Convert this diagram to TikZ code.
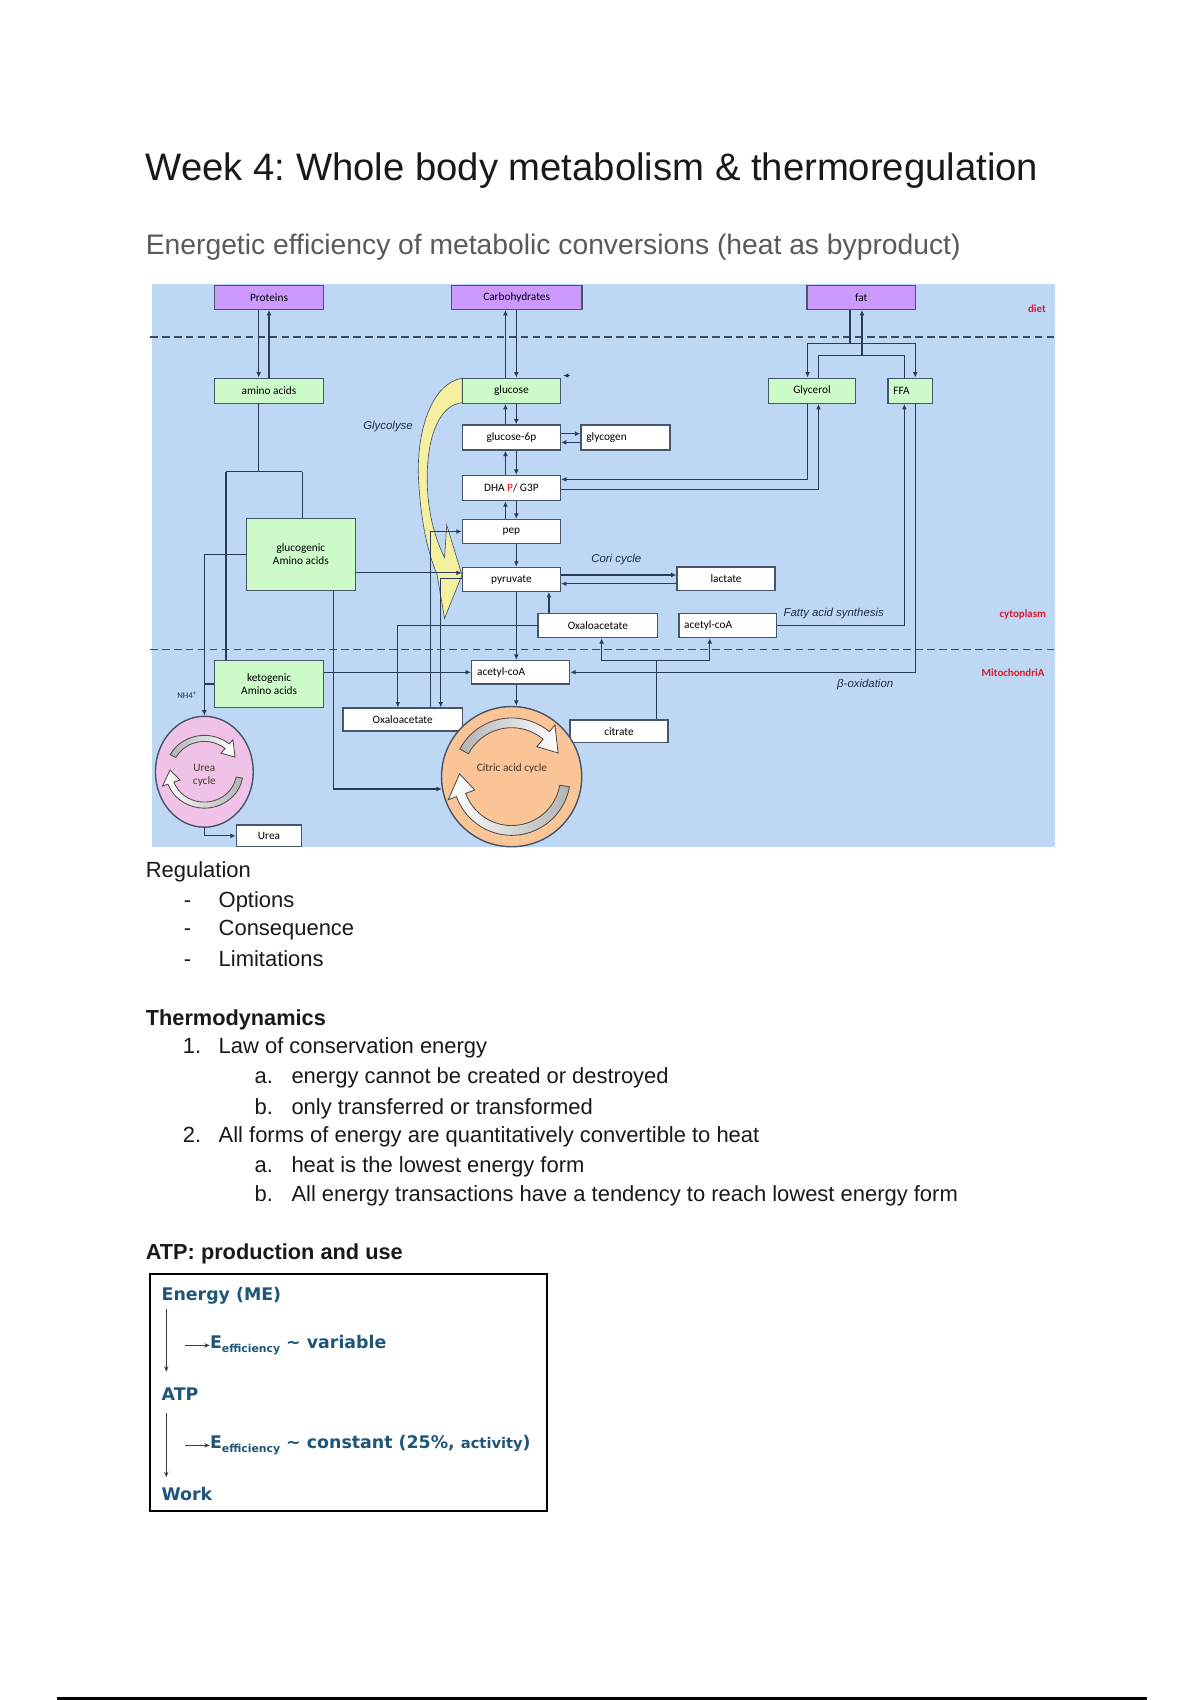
\documentclass[tikz,border=0pt]{standalone}
\usepackage{fontspec}
\setmainfont{Liberation Sans}
\newfontfamily\carl{Carlito}
\newfontfamily\dvs{DejaVu Sans}
\usetikzlibrary{arrows.meta,shapes.geometric,calc,backgrounds}
\frenchspacing
\definecolor{bgblue}{RGB}{189,215,245}
\definecolor{purp}{RGB}{204,153,255}
\definecolor{grn}{RGB}{204,250,200}
\definecolor{boxline}{RGB}{70,85,105}
\definecolor{conn}{RGB}{40,60,90}
\definecolor{dashc}{RGB}{60,75,95}
\definecolor{labred}{RGB}{215,30,45}
\definecolor{ital}{RGB}{30,45,75}
\definecolor{pinkc}{RGB}{241,194,231}
\definecolor{orangec}{RGB}{250,196,150}
\definecolor{yel}{RGB}{245,240,160}
\definecolor{tcol}{RGB}{25,25,25}
\definecolor{subcol}{RGB}{90,90,90}
\definecolor{atpcol}{RGB}{30,85,120}
\definecolor{cycline}{RGB}{80,80,80}
\definecolor{cyctext}{RGB}{70,55,50}
\newcommand\bxfont{\carl\fontsize{10.4}{12}\selectfont}
\newcommand\mycycarrows{%
 \path[draw=cycline, line width=0.8pt, left color=gray!60, right color=white]
   (152:54) arc[start angle=152, end angle=50, radius=54] -- (50:62) -- (27:48) -- (50:36) -- (50:45) arc[start angle=50, end angle=152, radius=45] -- cycle;
 \path[draw=cycline, line width=0.8pt, left color=white, right color=gray!60]
   (-10:54) arc[start angle=-10, end angle=-160, radius=54] -- (-160:62) -- (-183:48) -- (-160:36) -- (-160:45) arc[start angle=-160, end angle=-10, radius=45] -- cycle;
}
\begin{document}
\begin{tikzpicture}[x=1pt,y=1pt,
  box/.style={draw=boxline, line width=1.3pt, inner sep=0pt, minimum height=22pt, font=\bxfont, text=black},
  purplebox/.style={box, fill=purp},
  greenbox/.style={box, fill=grn},
  whitebox/.style={box, fill=white},
  arr/.style={draw=conn, line width=1.1pt, -{Latex[length=5pt,width=4.5pt]}},
  ln/.style={draw=conn, line width=1.1pt},
  redlab/.style={inner sep=0pt, text=labred, font=\carl\bfseries\fontsize{10}{12}\selectfont},
  itl/.style={inner sep=0pt, text=ital, font=\itshape\fontsize{10.5}{12}\selectfont},
  txt/.style={anchor=base west, inner sep=0pt, text=tcol, font=\fontsize{20.2}{24}\selectfont},
  txtb/.style={txt, font=\bfseries\fontsize{20}{24}\selectfont},
  atpt/.style={anchor=base west, inner sep=0pt, text=atpcol, font=\dvs\bfseries\fontsize{16}{19}\selectfont},
  atparr/.style={draw={rgb,255:red,60;green,60;blue,60}, line width=1.3pt, -{Stealth[length=5pt,width=4pt]}}
]
\useasboundingbox (0,0) rectangle (1104,-1564);

% ---------- titles ----------
\node[anchor=base west, inner sep=0pt, text=tcol, font=\fontsize{35.2}{40}\selectfont] (title) at (134,-166) {Week 4: Whole body metabolism \& thermoregulation};
\node[anchor=base west, inner sep=0pt, text=subcol, font=\fontsize{26}{30}\selectfont] (subtitle) at (134,-234) {Energetic efficiency of metabolic conversions (heat as byproduct)};

% ---------- diagram nodes ----------
\node[purplebox, minimum width=100pt] (prot) at (247.5,-273.5) {Proteins};
\node[purplebox, minimum width=120pt] (carb) at (475.3,-273.5) {Carbohydrates};
\node[purplebox, minimum width=100pt] (fat) at (792.4,-273.5) {fat};
\node[greenbox, minimum width=100pt, minimum height=23pt] (amino) at (247.5,-359.5) {amino acids};
\node[greenbox, minimum width=90pt, minimum height=23pt] (gluc) at (470.5,-359.5) {glucose};
\node[greenbox, minimum width=80pt, minimum height=23pt] (glyc) at (747,-359.5) {Glycerol};
\node[greenbox, minimum height=23pt, text width=31pt, inner xsep=5pt, align=left] (ffa) at (837.5,-359.5) {FFA};
\node[whitebox, minimum width=90pt, minimum height=23pt] (g6p) at (470.5,-402.5) {glucose-6p};
\node[whitebox, minimum height=23pt, text width=72pt, inner xsep=5pt, align=left] (glycogen) at (575.5,-402.5) {glycogen};
\node[whitebox, minimum width=90pt, minimum height=23pt] (dha) at (470.5,-449) {DHA \textcolor{red}{P}/ G3P};
\node[whitebox, minimum width=90pt] (pep) at (470.5,-489) {pep};
\node[whitebox, minimum width=90pt] (pyr) at (470.5,-533) {pyruvate};
\node[whitebox, minimum width=90pt] (lact) at (668,-532.5) {lactate};
\node[whitebox, minimum width=110pt] (oaac) at (550,-575.5) {Oxaloacetate};
\node[whitebox, text width=80pt, inner xsep=5pt, align=left] (acoac) at (669.5,-575.5) {acetyl-coA};
\node[whitebox, text width=80pt, inner xsep=5pt, align=left, minimum height=21.5pt] (acoam) at (479,-618.5) {acetyl-coA};
\node[whitebox, minimum width=110pt, minimum height=21pt] (oaam) at (370.5,-662) {Oxaloacetate};
\node[whitebox, minimum width=90pt, minimum height=21pt] (citr) at (569.5,-672.7) {citrate};
\node[whitebox, minimum width=60pt, minimum height=20pt] (urea) at (247.5,-769) {Urea};
\node[greenbox, minimum width=100pt, minimum height=66pt, align=center] (glucog) at (276.8,-510) {glucogenic\\Amino acids};
\node[greenbox, minimum width=100pt, minimum height=43pt, align=center] (ketog) at (247.6,-629.3) {ketogenic\\Amino acids};
\node[draw=boxline, line width=1.3pt, fill=pinkc, ellipse, minimum width=90pt, minimum height=102pt, inner sep=0pt] (ureacyc) at (188,-710) {};
\node[draw=boxline, line width=1.3pt, fill=orangec, circle, minimum size=129pt, inner sep=0pt] (tca) at (470.7,-714.5) {};

% ---------- background layer ----------
\begin{scope}[on background layer]
  \fill[white] (0,0) rectangle (1104,-1564);
  \fill[bgblue] (140,-261) rectangle (971,-779);
  \draw[dashc, line width=1.2pt, dash pattern=on 7pt off 4pt] (138,-310) -- (971,-310);
  \draw[dashc, line width=1.2pt, dash pattern=on 7pt off 4pt] (138,-597.5) -- (971,-597.5);
  % Glycolyse block arrow
  \path[fill=yel, draw=boxline, line width=0.6pt]
    (425.3,-348) .. controls (398,-352) and (383,-395) .. (385,-440)
    .. controls (387,-480) and (394,-510) .. (402,-528)
    -- (409,-569) -- (425,-529) -- (411,-483) -- (409,-513)
    .. controls (400,-495) and (393,-470) .. (393,-440)
    .. controls (393,-400) and (405,-372) .. (425.3,-370.5) -- cycle;
\end{scope}

% ---------- cycle arrows ----------
\begin{scope}[shift={(470.7,-714.5)}]
  \mycycarrows
\end{scope}
\begin{scope}[shift={(188,-710)}, xscale=0.66, yscale=0.62]
  \mycycarrows
\end{scope}
\node[font=\bxfont, text=cyctext, inner sep=0pt] (tcatxt) at (471,-707) {Citric acid cycle};
\node[font=\bxfont, text=cyctext, inner sep=0pt, align=center] (ureatxt) at (188,-713) {Urea\\cycle};

% ---------- labels ----------
\node[redlab] (ldiet) at (954,-284) {diet};
\node[redlab] (lcyto) at (941,-565) {cytoplasm};
\node[redlab] (lmito) at (932,-619) {MitochondriA};
\node[itl] (lglyco) at (357,-392) {Glycolyse};
\node[itl] (lcori) at (567,-515) {Cori cycle};
\node[itl] (lfas) at (767,-564) {Fatty acid synthesis};
\node[itl] (lbox) at (796,-630) {β-oxidation};
\node[inner sep=0pt, text=ital, font=\carl\fontsize{8}{9}\selectfont] (lnh) at (172,-640) {NH4\textsuperscript{+}};

% ---------- helper coordinates ----------
\coordinate (xu) at (465,0); \coordinate (xd) at (475,0);
\coordinate (pd) at (238,0); \coordinate (pu) at (247.5,0);
\coordinate (ya) at (0,-399); \coordinate (yb) at (0,-407);
\coordinate (gA) at (743,0); \coordinate (gB) at (753,0);
\coordinate (y441) at (0,-441);
\coordinate (fA) at (782,-316); \coordinate (fC) at (793,-327);
\coordinate (fB) at (842,0); \coordinate (fD) at (832,0);
\coordinate (xO) at (505,0); \coordinate (xOa) at (366,0);
\coordinate (xOb) at (405.5,0); \coordinate (xOc) at (396,0);
\coordinate (yG) at (0,-527); \coordinate (xG) at (307,0);
\coordinate (jA) at (238,-434); \coordinate (jB) at (208,-434); \coordinate (jC) at (278,-434);
\coordinate (jD) at (604,-608); \coordinate (xC1) at (553.5,0); \coordinate (xC2) at (653,0);
\coordinate (pl1) at ([yshift=4pt]pyr.east); \coordinate (pl2) at ([yshift=-4pt]pyr.east);
\coordinate (stray1) at (524,-345.5); \coordinate (stray2) at (518,-345.5);

% ---------- connectors ----------
\draw[arr] (prot.south -| pd) -- (amino.north -| pd);
\draw[arr] (amino.north -| pu) -- (prot.south -| pu);
\draw[arr] (gluc.north -| xu) -- (carb.south -| xu);
\draw[arr] (carb.south -| xd) -- (gluc.north -| xd);
\draw[arr] (g6p.north -| xu) -- (gluc.south -| xu);
\draw[arr] (gluc.south -| xd) -- (g6p.north -| xd);
\draw[arr] (dha.north -| xu) -- (g6p.south -| xu);
\draw[arr] (g6p.south -| xd) -- (dha.north -| xd);
\draw[arr] (pep.north -| xu) -- (dha.south -| xu);
\draw[arr] (dha.south -| xd) -- (pep.north -| xd);
\draw[arr] (pep.south -| xd) -- (pyr.north -| xd);
\draw[arr] (pyr.south -| xd) -- (acoam.north -| xd);
\draw[arr] (acoam.south -| xd) -- (tca.north -| xd);
\draw[arr] (g6p.east |- ya) -- (glycogen.west |- ya);
\draw[arr] (glycogen.west |- yb) -- (g6p.east |- yb);
\draw[arr] (glyc.south -| gA) |- (dha.east |- y441);
\draw[arr] ([yshift=-1pt]dha.east) -| (glyc.south -| gB);
\draw[ln] (fat.south -| fA) -- (fA);
\draw[arr] (fA) -| (glyc.north -| gA);
\draw[arr] (fA) -| (ffa.north -| fB);
\draw[arr] (fC) -- (fat.south -| fC);
\draw[ln] (glyc.north -| gB) |- (fC);
\draw[ln] (ffa.north -| fD) |- (fC);
\draw[arr] (acoac.east) -| (ffa.south -| fD);
\draw[arr] (ffa.south -| fB) |- (acoam.east);
\draw[arr] (pl1) -- (pl1 -| lact.west);
\draw[arr] (pl2 -| lact.west) -- (pl2);
\draw[arr] (oaac.north -| xO) -- (pyr.south -| xO);
\draw[arr] (oaac.west) -| (oaam.north -| xOa);
\draw[arr] ([yshift=1pt]pyr.west) -| (oaam.north -| xOb);
\draw[arr] (oaam.north -| xOc) |- (pep.west);
\draw[arr] (glucog.east |- yG) -- (pyr.west |- yG);
\draw[arr] (glucog.south -| xG) |- (tca.190);
\draw[arr] (ketog.east |- acoam.west) -- (acoam.west);
\draw[ln] (amino.south -| jA) -- (jA);
\draw[ln] (jB) -- (jC);
\draw[ln] (jC) -- (glucog.north -| jC);
\draw[ln] (jB) -- (ketog.north -| jB);
\draw[arr] (glucog.west) -| (ureacyc.north);
\draw[ln] (ketog.west) -- (ketog.west -| ureacyc.north);
\draw[arr] (ureacyc.south) |- (urea.west);
\draw[ln] (citr.north -| jD) -- (jD);
\draw[arr] (jD) -| (oaac.south -| xC1);
\draw[arr] (jD) -| (acoac.south -| xC2);
\draw[arr] (stray1) -- (stray2);

% ---------- text section ----------
\node[txt] (reg) at (134,-807) {Regulation};
\node[txt] (d1) at (169,-835) {-};
\node[txt] (opt) at (201,-835) {Options};
\node[txt] (d2) at (169,-861) {-};
\node[txt] (cons) at (201,-861) {Consequence};
\node[txt] (d3) at (169,-889) {-};
\node[txt] (lim) at (201,-889) {Limitations};
\node[txtb] (thermo) at (134,-943) {Thermodynamics};
\node[txt] (n1) at (168,-969) {1.};
\node[txt] (t1) at (201,-969) {Law of conservation energy};
\node[txt] (n1a) at (234,-997) {a.};
\node[txt] (t1a) at (268,-997) {energy cannot be created or destroyed};
\node[txt] (n1b) at (234,-1025) {b.};
\node[txt] (t1b) at (268,-1025) {only transferred or transformed};
\node[txt] (n2) at (168,-1051) {2.};
\node[txt] (t2) at (201,-1051) {All forms of energy are quantitatively convertible to heat};
\node[txt] (n2a) at (234,-1079) {a.};
\node[txt] (t2a) at (268,-1079) {heat is the lowest energy form};
\node[txt] (n2b) at (234,-1105) {b.};
\node[txt] (t2b) at (268,-1105) {All energy transactions have a tendency to reach lowest energy form};
\node[txtb] (atph) at (134,-1159) {ATP: production and use};

% ---------- ATP box ----------
\node[draw=black, line width=1.6pt, minimum width=365pt, minimum height=218pt, inner sep=0pt] (atpbox) at (320.5,-1281) {};
\node[atpt] (atpE) at (148.5,-1196) {Energy (ME)};
\node[atpt] (atpA) at (148.5,-1288) {ATP};
\node[atpt] (atpW) at (148.5,-1380) {Work};
\node[atpt] (eff1) at (193,-1241) {E\raisebox{-3.5pt}{\fontsize{10}{10}\selectfont efficiency} \textasciitilde{} variable};
\node[atpt] (eff2) at (193,-1333) {E\raisebox{-3.5pt}{\fontsize{10}{10}\selectfont efficiency} \textasciitilde{} constant (25\%, {\fontsize{13.5}{14}\selectfont activity})};
\coordinate (v1a) at (153,-1204); \coordinate (v1b) at (153,-1262);
\coordinate (v2a) at (153,-1300); \coordinate (v2b) at (153,-1359);
\coordinate (hx) at (170,0);
\draw[atparr] (v1a) -- (v1b);
\draw[atparr] (v2a) -- (v2b);
\draw[atparr] (hx |- eff1.west) -- (eff1.west);
\draw[atparr] (hx |- eff2.west) -- (eff2.west);

% ---------- bottom rule ----------
\coordinate (bl1) at (52,-1562.5); \coordinate (bl2) at (1055,-1562.5);
\draw[line width=2.5pt, black] (bl1) -- (bl2);
\end{tikzpicture}
\end{document}
